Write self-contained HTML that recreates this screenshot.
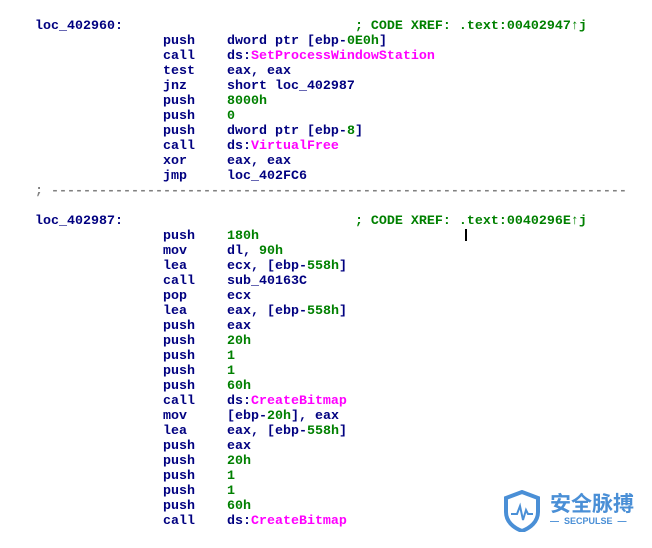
<!DOCTYPE html>
<html><head><meta charset="utf-8"><style>
html,body{margin:0;padding:0;background:#fff;width:652px;height:548px;overflow:hidden;position:relative}
pre{position:absolute;left:35px;top:19px;margin:0;font-family:"Liberation Mono",monospace;font-weight:bold;font-size:13.33px;line-height:15px;color:#000080}
.g{color:#008000}.m{color:#ff00ff}.d{color:#808080}
#cur{position:absolute;left:465px;top:229px;width:2px;height:12px;background:#000}
#logo{position:absolute;left:502px;top:490px;font-family:"Noto Sans CJK SC",sans-serif}
</style></head><body>
<pre>loc_402960:                             <span class="g">; CODE XREF: .text:00402947↑j</span>
                push    dword ptr [ebp-<span class="g">0E0h</span>]
                call    ds:<span class="m">SetProcessWindowStation</span>
                test    eax, eax
                jnz     short loc_402987
                push    <span class="g">8000h</span>
                push    <span class="g">0</span>
                push    dword ptr [ebp-<span class="g">8</span>]
                call    ds:<span class="m">VirtualFree</span>
                xor     eax, eax
                jmp     loc_402FC6
<span class="d">; ------------------------------------------------------------------------</span>

loc_402987:                             <span class="g">; CODE XREF: .text:0040296E↑j</span>
                push    <span class="g">180h</span>
                mov     dl, <span class="g">90h</span>
                lea     ecx, [ebp-<span class="g">558h</span>]
                call    sub_40163C
                pop     ecx
                lea     eax, [ebp-<span class="g">558h</span>]
                push    eax
                push    <span class="g">20h</span>
                push    <span class="g">1</span>
                push    <span class="g">1</span>
                push    <span class="g">60h</span>
                call    ds:<span class="m">CreateBitmap</span>
                mov     [ebp-<span class="g">20h</span>], eax
                lea     eax, [ebp-<span class="g">558h</span>]
                push    eax
                push    <span class="g">20h</span>
                push    <span class="g">1</span>
                push    <span class="g">1</span>
                push    <span class="g">60h</span>
                call    ds:<span class="m">CreateBitmap</span></pre>
<div id="cur"></div>
<div id="logo">
<svg width="40" height="42" viewBox="0 0 40 42" style="position:absolute;left:0;top:0">
<path d="M20 2 L36 8 L36 22 C36 32 28 38 20 41 C12 38 4 32 4 22 L4 8 Z" fill="none" stroke="#4a8fd6" stroke-width="4"/>
<path d="M9 24 L15 24 L18 16 L21 30 L24 20 L26 24 L31 24" fill="none" stroke="#4a8fd6" stroke-width="2"/>
</svg>
<div style="position:absolute;left:48px;top:0;width:90px;font-size:21px;line-height:26px;font-weight:bold;color:#4a8fd6;white-space:nowrap">安全脉搏</div>
<div style="position:absolute;left:48px;top:26px;width:90px;font-family:'Liberation Sans',sans-serif;font-size:9px;font-weight:bold;color:#4a8fd6;white-space:nowrap">—&nbsp; SECPULSE &nbsp;—</div>
</div>
</body></html>
